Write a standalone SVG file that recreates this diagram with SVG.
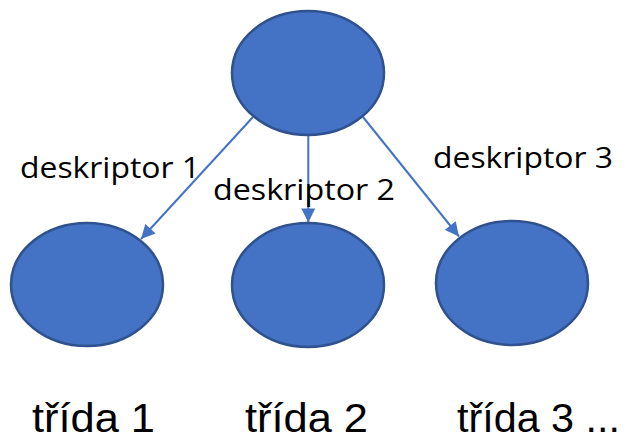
<svg xmlns="http://www.w3.org/2000/svg" width="628" height="441" viewBox="0 0 628 441">
  <style>
    .node { fill: #4472C4; stroke: #2F528F; stroke-width: 2.5; }
    .edge { stroke: #4472C4; stroke-width: 2; fill: none; }
    .lbl { font-family: "Open Sans", "Liberation Sans", sans-serif; fill: #000; }
    .edge-lbl { font-size: 30px; }
    .cls-lbl { font-family: "Liberation Sans", "Open Sans", sans-serif; font-size: 41px; }
  </style>
  <defs>
    <marker id="arrow" viewBox="0 0 10 10" refX="10" refY="5" markerWidth="7.5" markerHeight="7" markerUnits="strokeWidth" orient="auto">
      <path d="M0,0 L10,5 L0,10 Z" fill="#4472C4"/>
    </marker>
  </defs>

  <!-- connectors from the root to each class -->
  <g id="edges">
    <line class="edge" x1="253" y1="117" x2="141" y2="239" marker-end="url(#arrow)"/>
    <line class="edge" x1="308.3" y1="135" x2="308.3" y2="222.5" marker-end="url(#arrow)"/>
    <line class="edge" x1="363" y1="117" x2="459" y2="236.5" marker-end="url(#arrow)"/>
  </g>

  <!-- root node -->
  <g id="root">
    <ellipse class="node" cx="308" cy="73" rx="76" ry="62"/>
  </g>

  <!-- class nodes -->
  <g id="class1">
    <ellipse class="node" cx="87" cy="284.5" rx="76" ry="61.5"/>
    <text class="lbl cls-lbl" x="32" y="432" textLength="123" lengthAdjust="spacingAndGlyphs">třída 1</text>
  </g>
  <g id="class2">
    <ellipse class="node" cx="308" cy="285" rx="76" ry="62"/>
    <text class="lbl cls-lbl" x="245" y="432" textLength="123" lengthAdjust="spacingAndGlyphs">třída 2</text>
  </g>
  <g id="class3">
    <ellipse class="node" cx="512" cy="283" rx="76" ry="62"/>
    <text class="lbl cls-lbl" x="457" y="432" textLength="163" lengthAdjust="spacingAndGlyphs">třída 3 ...</text>
  </g>

  <!-- descriptor labels -->
  <g id="labels">
    <text class="lbl edge-lbl" x="20" y="178" textLength="180" lengthAdjust="spacingAndGlyphs">deskriptor 1</text>
    <text class="lbl edge-lbl" x="213" y="200" textLength="182" lengthAdjust="spacingAndGlyphs">deskriptor 2</text>
    <text class="lbl edge-lbl" x="433" y="168" textLength="180" lengthAdjust="spacingAndGlyphs">deskriptor 3</text>
  </g>
</svg>
